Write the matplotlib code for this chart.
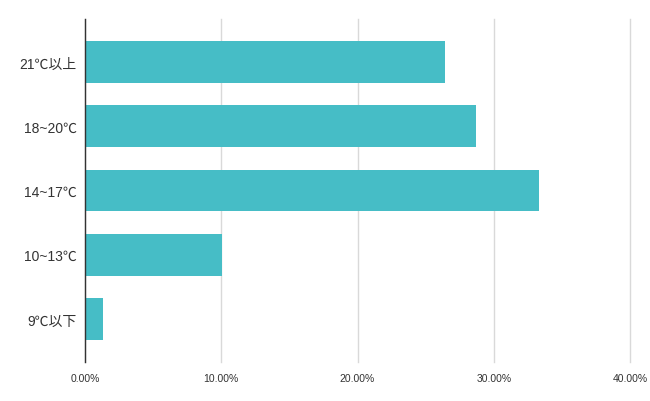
import matplotlib
matplotlib.use('Agg')
import matplotlib.pyplot as plt
from matplotlib.ticker import FuncFormatter

plt.rcParams['font.family'] = ['Liberation Sans', 'Noto Sans CJK JP', 'DejaVu Sans']

categories = ['21℃以上', '18~20℃', '14~17℃', '10~13℃', '9℃以下']
values = [26.4, 28.7, 33.3, 10.05, 1.35]

fig = plt.figure(figsize=(6.5, 4.02), dpi=100)
ax = fig.add_axes([0.1308, 0.097, 0.8384, 0.853])

pos = list(range(len(categories)))[::-1]
ax.barh(pos, values, height=0.65, color='#46bdc6', zorder=3)

ax.set_xlim(0, 40)
ax.set_ylim(-0.67, 4.67)
ax.set_xticks([0, 10, 20, 30, 40])
ax.xaxis.set_major_formatter(FuncFormatter(lambda v, p: f'{v:.2f}%'))
ax.set_yticks(pos)
ax.set_yticklabels(categories, fontsize=10, color='#333333')
ax.tick_params(axis='x', labelsize=7.5, colors='#333333', length=0, pad=8)
ax.tick_params(axis='y', length=0, pad=6)
ax.grid(axis='x', color='#d9d9d9', linewidth=1, zorder=0)
for gl in ax.get_xgridlines():
    gl.set_clip_on(False)

for s in ['top', 'right', 'bottom']:
    ax.spines[s].set_visible(False)
ax.spines['left'].set_color('#333333')
ax.spines['left'].set_linewidth(1)
ax.spines['left'].set_zorder(4)

fig.savefig('out.png', dpi=100)
